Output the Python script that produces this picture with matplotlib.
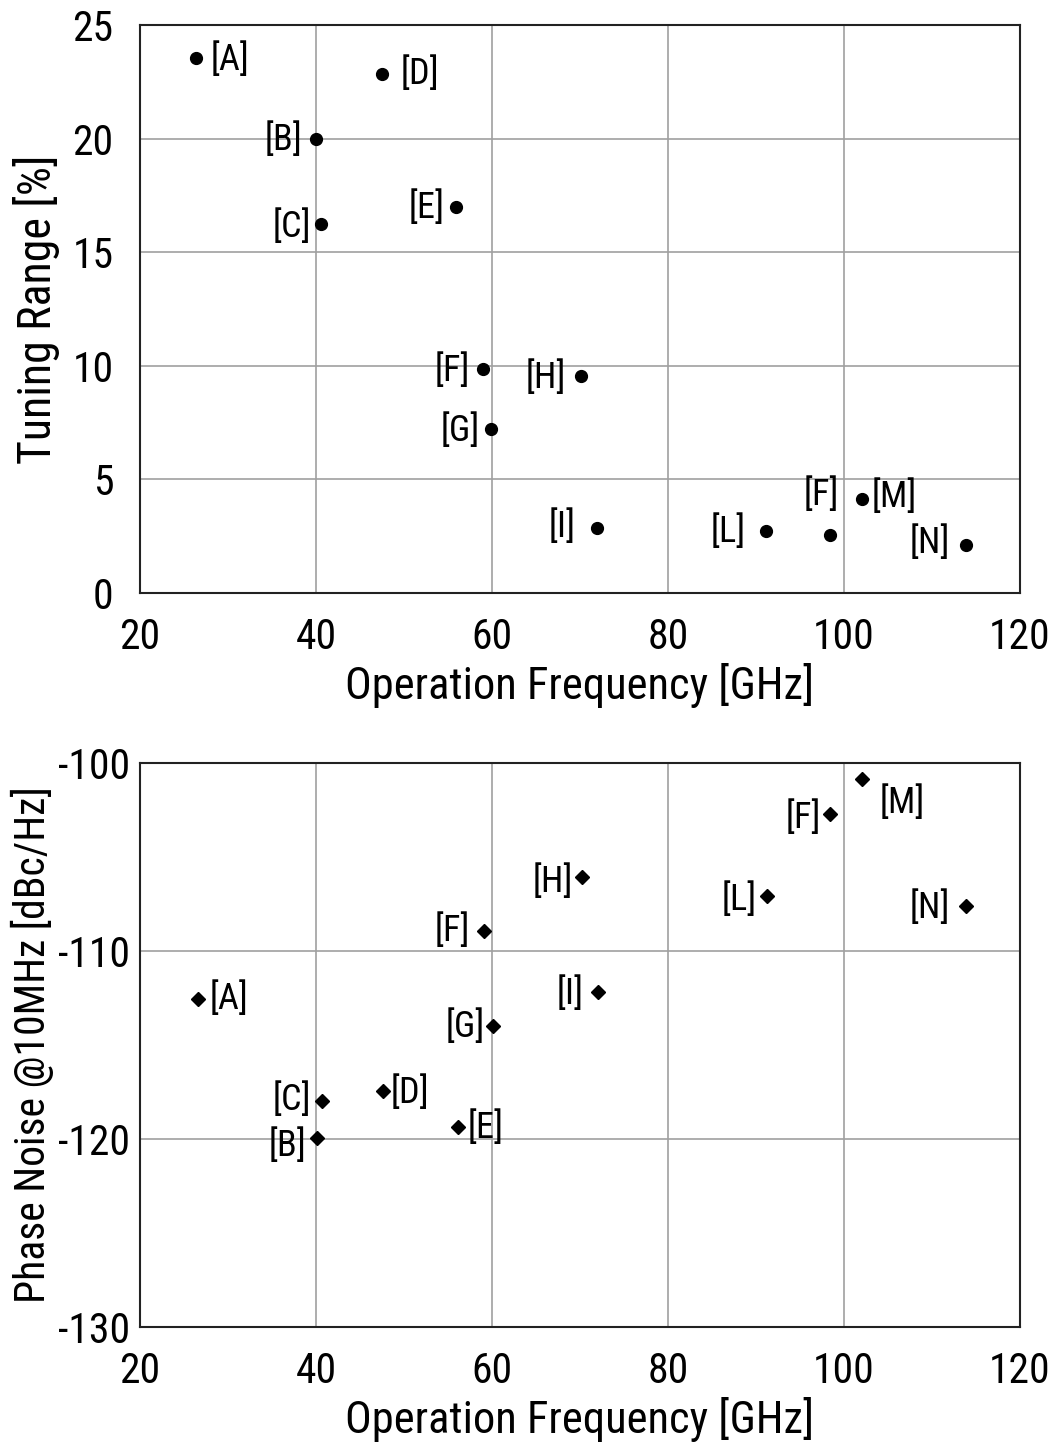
import matplotlib
matplotlib.use('Agg')
import matplotlib.pyplot as plt

plt.rcParams['font.family'] = ['Liberation Sans Narrow', 'Roboto Condensed', 'Archivo Narrow',
                               'PT Sans Narrow', 'Liberation Sans', 'DejaVu Sans']
plt.rcParams['axes.unicode_minus'] = False

# 各文献の値
labels_tr = ['[A]', '[D]', '[B]', '[C]', '[E]', '[F]', '[H]', '[G]', '[I]', '[L]', '[F]', '[M]', '[N]']
freq_tr = [26.4, 47.5, 40.0, 40.6, 55.9, 59.0, 70.1, 59.9, 71.9, 91.1, 98.4, 102.0, 113.9]
tuning_range = [23.55, 22.85, 20.0, 16.24, 17.0, 9.86, 9.55, 7.2, 2.86, 2.73, 2.55, 4.14, 2.11]

labels_pn = ['[A]', '[C]', '[B]', '[D]', '[E]', '[G]', '[F]', '[H]', '[I]', '[L]', '[F]', '[M]', '[N]']
freq_pn = [26.6, 40.7, 40.1, 47.6, 56.1, 60.1, 59.1, 70.2, 72.0, 91.25, 98.4, 102.0, 113.9]
phase_noise = [-112.55, -117.98, -119.95, -117.45, -119.36, -113.99, -108.94, -106.06, -112.18, -107.07, -102.71, -100.85, -107.6]

# ラベルの位置（ピクセルオフセット, ha）
off_tr = [(14, -2, 'left'), (19, 0, 'left'), (-14, -1, 'right'), (-10, -3, 'right'), (-11, -1, 'right'),
          (-13, -2, 'right'), (-15, -2, 'right'), (-11, -2, 'right'), (-21, 1, 'right'), (-20, -1, 'right'),
          (-9, 40, 'center'), (10, 2, 'left'), (-16, 2, 'right')]
off_pn = [(12, 0, 'left'), (-11, 1, 'right'), (-10, -8, 'right'), (8, -2, 'left'), (10, -1, 'left'),
          (-8, -1, 'right'), (-14, 0, 'right'), (-9, -5, 'right'), (-14, -2, 'right'), (-10, -4, 'right'),
          (-9, -4, 'right'), (18, -24, 'left'), (-16, -2, 'right')]

fig = plt.figure(figsize=(10.54, 14.42), dpi=100)
ax1 = fig.add_axes([0.1328, 0.5888, 0.835, 0.3939])
ax2 = fig.add_axes([0.1328, 0.0798, 0.835, 0.3911])


def style(ax, ypad):
    ax.grid(True, color='#a0a0a0', linewidth=1.2)
    ax.set_axisbelow(True)
    ax.tick_params(length=0, labelsize=30)
    ax.tick_params(axis='x', pad=17)
    ax.tick_params(axis='y', pad=ypad)
    for s in ax.spines.values():
        s.set_linewidth(1.5)
        s.set_color('#222222')
    ax.set_xlim(20, 120)
    ax.set_xticks([20, 40, 60, 80, 100, 120])
    ax.set_xlabel('Operation Frequency [GHz]', fontsize=32, labelpad=4)


ax1.plot(freq_tr, tuning_range, 'o', color='black', markersize=8.5)
for lab, x, y, (dx, dy, ha) in zip(labels_tr, freq_tr, tuning_range, off_tr):
    ax1.annotate(lab, (x, y), xytext=(dx, dy), textcoords='offset pixels',
                 ha=ha, va='center', fontsize=26)
style(ax1, 19)
ax1.set_ylim(0, 25)
ax1.set_yticks([0, 5, 10, 15, 20, 25])
ax1.set_ylabel('Tuning Range [%]', fontsize=33, labelpad=9)

ax2.plot(freq_pn, phase_noise, 'D', color='black', markersize=7.5)
for lab, x, y, (dx, dy, ha) in zip(labels_pn, freq_pn, phase_noise, off_pn):
    ax2.annotate(lab, (x, y), xytext=(dx, dy), textcoords='offset pixels',
                 ha=ha, va='center', fontsize=26)
style(ax2, 7)
ax2.set_ylim(-130, -100)
ax2.set_yticks([-130, -120, -110, -100])
ax2.set_ylabel('Phase Noise @10MHz [dBc/Hz]', fontsize=30, labelpad=3)

fig.savefig('out.png', dpi=100)
